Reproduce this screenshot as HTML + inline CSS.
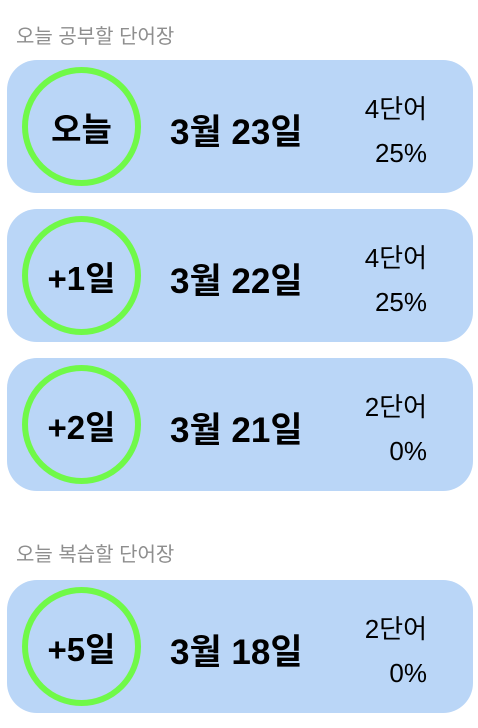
<!DOCTYPE html>
<html><head><meta charset="utf-8"><style>
body{margin:0;width:478px;height:728px;background:#fff;font-family:"Liberation Sans","Noto Sans CJK KR",sans-serif;position:relative;overflow:hidden}
.h{position:absolute;left:16px;font-size:20px;color:#8e8e8e}
.card{position:absolute;left:7px;width:466px;height:133px;background:#bad6f7;border-radius:30px}
.ring{position:absolute;left:15px;top:7px;width:107px;height:107px;border:6px solid #70f948;border-radius:50%;display:flex;align-items:center;justify-content:center;font-weight:bold;font-size:33px;color:#000}
.date{position:absolute;left:163px;top:44px;font-weight:bold;font-size:35px;color:#000;white-space:nowrap}
.w{position:absolute;right:46px;top:27px;font-size:26px;color:#000;text-align:right;line-height:44px}
</style></head><body>
<div class="h" style="top:20px">오늘 공부할 단어장</div>
<div class="card" style="top:60px"><div class="ring">오늘</div><div class="date">3월 23일</div><div class="w">4단어<br>25%</div></div>
<div class="card" style="top:209px"><div class="ring">+1일</div><div class="date">3월 22일</div><div class="w">4단어<br>25%</div></div>
<div class="card" style="top:358px"><div class="ring">+2일</div><div class="date">3월 21일</div><div class="w">2단어<br>0%</div></div>
<div class="h" style="top:538px">오늘 복습할 단어장</div>
<div class="card" style="top:580px"><div class="ring">+5일</div><div class="date">3월 18일</div><div class="w">2단어<br>0%</div></div>
</body></html>
